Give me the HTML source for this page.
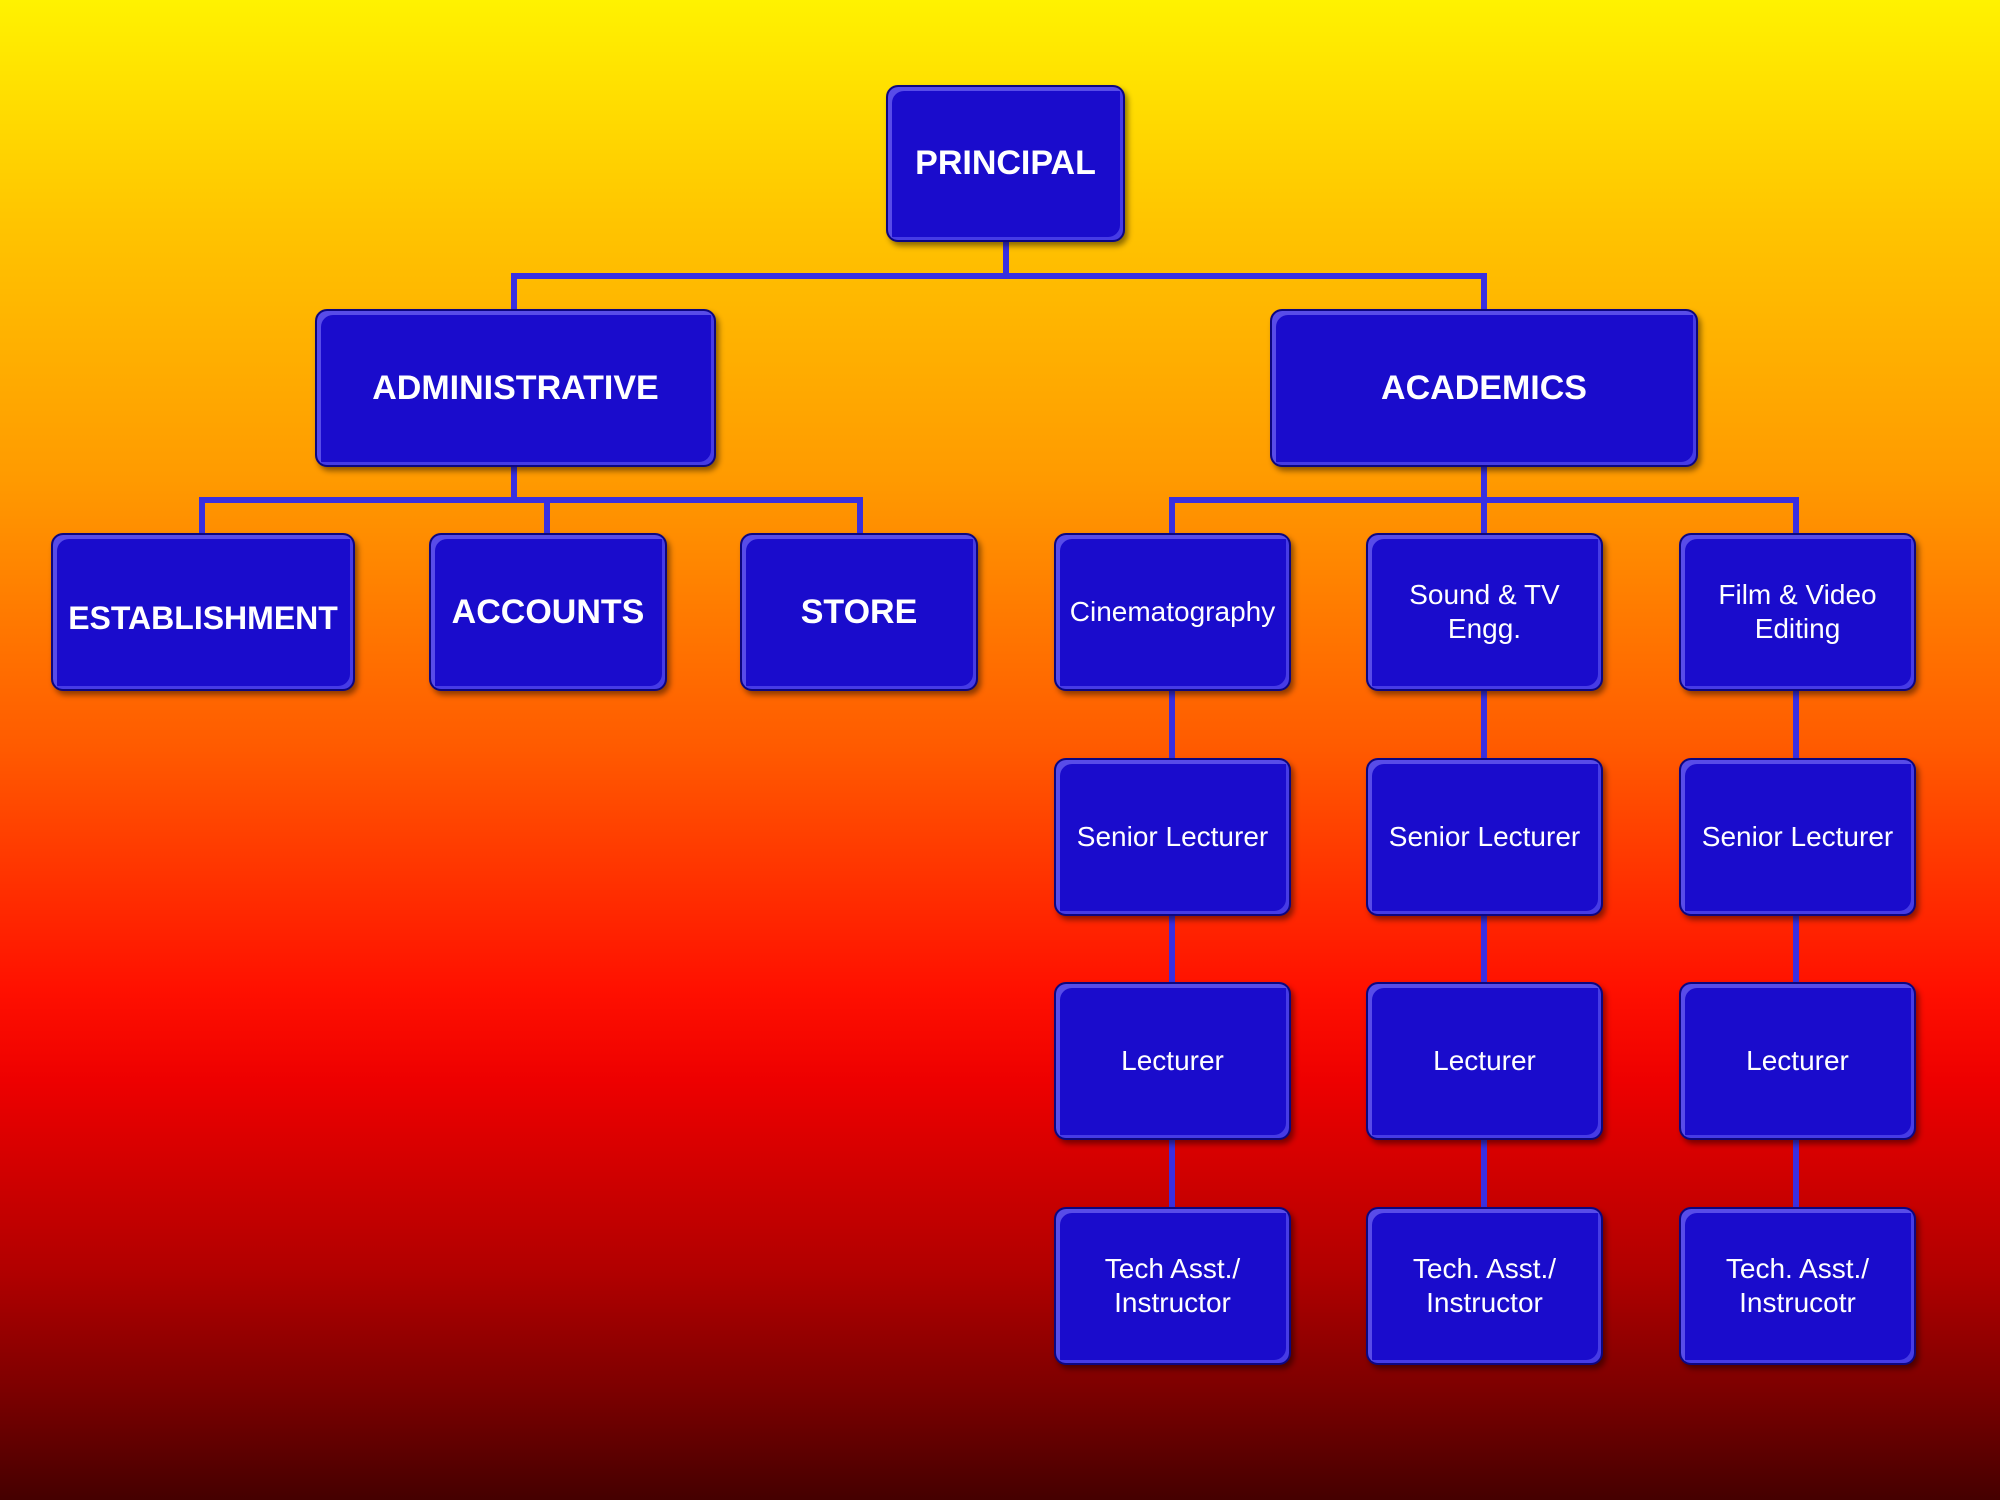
<!DOCTYPE html>
<html><head><meta charset="utf-8"><style>
html,body{margin:0;padding:0}
body{width:2000px;height:1500px;position:relative;overflow:hidden;font-family:"Liberation Sans",sans-serif;
background:linear-gradient(to bottom,#fff200 0%,#ffc400 15%,#ff9a00 32%,#ff5a00 50%,#ff1000 66%,#ee0000 72%,#b00000 85%,#7a0000 93%,#450000 100%);}
.b{position:absolute;box-sizing:border-box;background:#1a0ccc;border:2px solid #0c0680;border-radius:12px;color:#fff;
display:flex;align-items:center;justify-content:center;text-align:center;
box-shadow:inset 6px 6px 0 -2px rgba(140,130,255,.55),inset -5px -5px 0 -2px rgba(90,80,240,.7),3px 4px 6px rgba(0,0,0,.45);}
.bold{font-weight:bold;font-size:34px}
.n{font-size:28px;line-height:34px}
.l{position:absolute;background:#3a2fe0}
</style></head><body>
<!-- connectors -->
<div class="l" style="left:1003px;top:242px;width:6px;height:36px"></div>
<div class="l" style="left:511px;top:273px;width:976px;height:6px"></div>
<div class="l" style="left:511px;top:273px;width:6px;height:38px"></div>
<div class="l" style="left:1481px;top:273px;width:6px;height:38px"></div>
<div class="l" style="left:511px;top:467px;width:6px;height:34px"></div>
<div class="l" style="left:199px;top:497px;width:664px;height:6px"></div>
<div class="l" style="left:199px;top:497px;width:6px;height:38px"></div>
<div class="l" style="left:544px;top:497px;width:6px;height:38px"></div>
<div class="l" style="left:857px;top:497px;width:6px;height:38px"></div>
<div class="l" style="left:1481px;top:467px;width:6px;height:742px"></div>
<div class="l" style="left:1169px;top:497px;width:630px;height:6px"></div>
<div class="l" style="left:1169px;top:497px;width:6px;height:712px"></div>
<div class="l" style="left:1793px;top:497px;width:6px;height:712px"></div>
<!-- boxes -->
<div class="b bold" style="left:886px;top:85px;width:239px;height:157px">PRINCIPAL</div>
<div class="b bold" style="left:315px;top:309px;width:401px;height:158px">ADMINISTRATIVE</div>
<div class="b bold" style="left:1270px;top:309px;width:428px;height:158px">ACADEMICS</div>
<div class="b bold" style="left:51px;top:533px;width:304px;height:158px;padding-top:12px;font-size:32px">ESTABLISHMENT</div>
<div class="b bold" style="left:429px;top:533px;width:238px;height:158px">ACCOUNTS</div>
<div class="b bold" style="left:740px;top:533px;width:238px;height:158px">STORE</div>
<div class="b n" style="left:1054px;top:533px;width:237px;height:158px">Cinematography</div>
<div class="b n" style="left:1366px;top:533px;width:237px;height:158px">Sound &amp; TV<br>Engg.</div>
<div class="b n" style="left:1679px;top:533px;width:237px;height:158px">Film &amp; Video<br>Editing</div>
<div class="b n" style="left:1054px;top:758px;width:237px;height:158px">Senior Lecturer</div>
<div class="b n" style="left:1366px;top:758px;width:237px;height:158px">Senior Lecturer</div>
<div class="b n" style="left:1679px;top:758px;width:237px;height:158px">Senior Lecturer</div>
<div class="b n" style="left:1054px;top:982px;width:237px;height:158px">Lecturer</div>
<div class="b n" style="left:1366px;top:982px;width:237px;height:158px">Lecturer</div>
<div class="b n" style="left:1679px;top:982px;width:237px;height:158px">Lecturer</div>
<div class="b n" style="left:1054px;top:1207px;width:237px;height:158px">Tech Asst./<br>Instructor</div>
<div class="b n" style="left:1366px;top:1207px;width:237px;height:158px">Tech. Asst./<br>Instructor</div>
<div class="b n" style="left:1679px;top:1207px;width:237px;height:158px">Tech. Asst./<br>Instrucotr</div>
</body></html>
